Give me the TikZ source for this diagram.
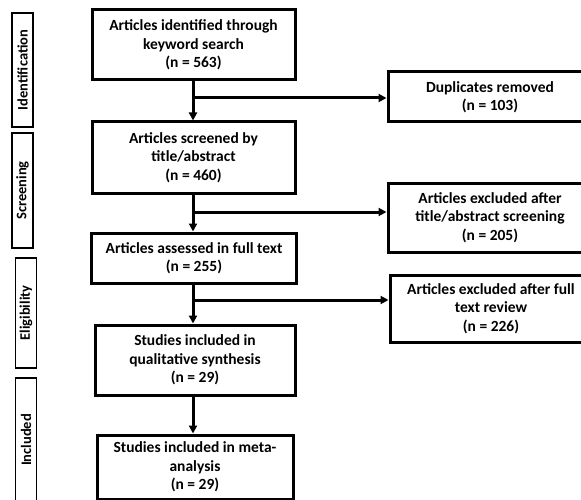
\documentclass[tikz,border=0pt]{standalone}
\usepackage{fontspec}
\setmainfont{Carlito}
\usetikzlibrary{arrows.meta}
\begin{document}
\begin{tikzpicture}[x=1pt,y=-1pt,
 box/.style={draw,line width=3pt,align=center,font=\bfseries\fontsize{15.5}{18.5}\selectfont,inner sep=0pt},
 lab/.style={draw,line width=1.8pt,rotate=90,font=\bfseries\fontsize{14.5}{16}\selectfont,inner sep=0pt,minimum height=21pt},
 arr/.style={line width=3pt,-{Triangle[length=8pt,width=8pt]}}]
\useasboundingbox (0,0) rectangle (581,500);
% stage labels
\node[lab,minimum width=114pt] (l1) at (22.5,70) {Identification};
\node[lab,minimum width=115pt] (l2) at (22.5,190.5) {Screening};
\node[lab,minimum width=110pt] (l3) at (26,313) {Eligibility};
\node[lab,minimum width=124pt] (l4) at (26,440) {Included};
% main boxes
\node[box,minimum width=203pt,minimum height=70pt] (b1) at (193.5,45) {Articles identified through\\keyword search\\(n = 563)};
\node[box,minimum width=203pt,minimum height=71pt] (b2) at (193.5,157.5) {Articles screened by\\title/abstract\\(n = 460)};
\node[box,minimum width=205pt,minimum height=50pt] (b3) at (194,258) {Articles assessed in full text\\(n = 255)};
\node[box,minimum width=200pt,minimum height=70pt] (b4) at (195,360) {Studies included in\\qualitative synthesis\\(n = 29)};
\node[box,minimum width=196pt,minimum height=64pt] (b5) at (195,467) {Studies included in meta-\\analysis\\(n = 29)};
% side boxes
\node[box,minimum width=204pt,minimum height=50pt] (s1) at (490,97) {Duplicates removed\\(n = 103)};
\node[box,minimum width=204pt,minimum height=69pt] (s2) at (490,217.5) {Articles excluded after\\title/abstract screening\\(n = 205)};
\node[box,minimum width=202pt,minimum height=67pt] (s3) at (491,308.5) {Articles excluded after full\\text review\\(n = 226)};
% branch points
\coordinate (c1) at (193,98);
\coordinate (c2) at (193,212);
\coordinate (c3) at (193,300);
% connectors
\draw[arr] (b1.south -| c1) -- (b2.north -| c1);
\draw[arr] (b2.south -| c1) -- (b3.north -| c1);
\draw[arr] (b3.south -| c1) -- (b4.north -| c1);
\draw[arr] (b4.south -| c1) -- (b5.north -| c1);
\draw[arr] (c1) -- (c1 -| s1.west);
\draw[arr] (c2) -- (c2 -| s2.west);
\draw[arr] (c3) -- (c3 -| s3.west);
\end{tikzpicture}
\end{document}
